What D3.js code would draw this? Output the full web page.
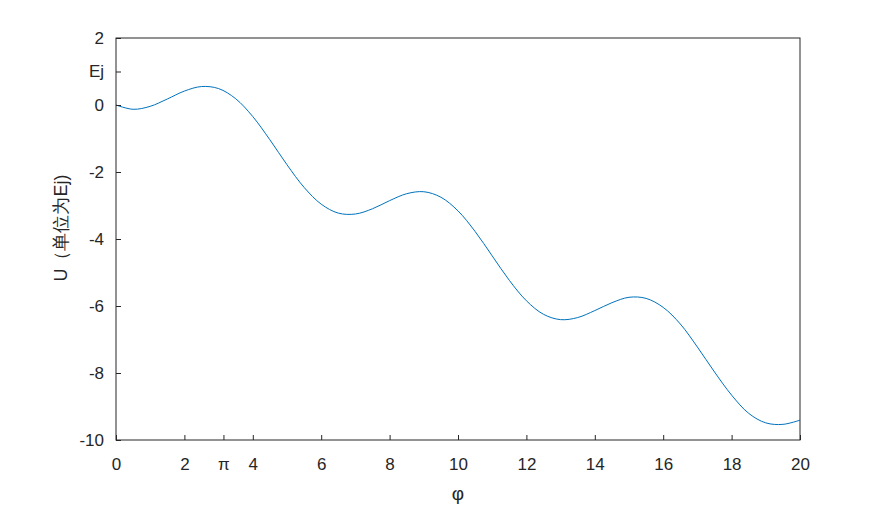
<!DOCTYPE html>
<html>
<head>
<meta charset="utf-8">
<script src="https://cdn.jsdelivr.net/npm/d3@7"></script>
<style>
  body { margin: 0; background: #fff; }
  text { font-family: "Liberation Sans", Arial, sans-serif; fill: #262626; }
</style>
</head>
<body>
<div id="chart"></div>
<script>
// phase values (every 0.5)
var phi = [0, 0.5, 1, 1.5, 2, 2.5, 3, 3.5, 4, 4.5, 5, 5.5, 6, 6.5, 7, 7.5, 8, 8.5, 9, 9.5,
  10, 10.5, 11, 11.5, 12, 12.5, 13, 13.5, 14, 14.5, 15, 15.5, 16, 16.5, 17, 17.5, 18, 18.5, 19, 19.5, 20];
var potential = [0, -0.128, -0.040, 0.179, 0.416, 0.551, 0.490, 0.187, -0.346, -1.039,
  -1.784, -2.459, -2.960, -3.227, -3.254, -3.097, -2.855, -2.648, -2.589, -2.753,
  -3.161, -3.775, -4.504, -5.233, -5.844, -6.248, -6.407, -6.345, -6.137, -5.902,
  -5.740, -5.773, -6.042, -6.537, -7.225, -7.969, -8.660, -9.204, -9.489, -9.533, -9.408];
var xTicks = [0, 2, Math.PI, 4, 6, 8, 10, 12, 14, 16, 18, 20];
var xTickLabels = ['0', '2', 'π', '4', '6', '8', '10', '12', '14', '16', '18', '20'];
var yTicks = [2, 1, 0, -2, -4, -6, -8, -10];
var yTickLabels = ['2', 'Ej', '0', '-2', '-4', '-6', '-8', '-10'];

var width = 885, height = 505;
var margin = {left: 116, right: 85, top: 38, bottom: 65};
var w = width - margin.left - margin.right;
var h = height - margin.top - margin.bottom;

var svg = d3.select('#chart').append('svg')
  .attr('width', width).attr('height', height);
var g = svg.append('g')
  .attr('transform', 'translate(' + margin.left + ',' + margin.top + ')');

var x = d3.scaleLinear().domain([0, 20]).range([0, w]);
var y = d3.scaleLinear().domain([-10, 2]).range([h, 0]);

var data = phi.map(function(p, i) { return {x: p, y: potential[i]}; });

var line = d3.line()
  .x(function(d) { return x(d.x); })
  .y(function(d) { return y(d.y); })
  .curve(d3.curveCatmullRom.alpha(0.5));

g.append('path')
  .datum(data)
  .attr('fill', 'none')
  .attr('stroke', '#0072bd')
  .attr('stroke-width', 1)
  .attr('d', line);

// box
g.append('rect')
  .attr('x', 0).attr('y', 0).attr('width', w).attr('height', h)
  .attr('fill', 'none').attr('stroke', '#262626').attr('stroke-width', 1);

var xAxis = d3.axisBottom(x)
  .tickValues(xTicks)
  .tickSize(-5)
  .tickPadding(18)
  .tickFormat(function(d, i) { return xTickLabels[i]; });
var gx = g.append('g').attr('transform', 'translate(0,' + h + ')').call(xAxis);

var yAxis = d3.axisLeft(y)
  .tickValues(yTicks)
  .tickSize(-5)
  .tickPadding(12)
  .tickFormat(function(d, i) { return yTickLabels[i]; });
var gy = g.append('g').call(yAxis);

[gx, gy].forEach(function(a) {
  a.select('.domain').remove();
  a.selectAll('line').attr('stroke', '#262626');
  a.selectAll('text')
    .style('font-family', '"Liberation Sans", Arial, sans-serif')
    .style('font-size', '17px')
    .attr('fill', '#262626');
});

svg.append('text')
  .attr('x', margin.left + x(10))
  .attr('y', 500)
  .attr('text-anchor', 'middle')
  .style('font-size', '19px')
  .text('φ');

svg.append('text')
  .attr('transform', 'translate(67,228) rotate(-90)')
  .attr('text-anchor', 'middle')
  .style('font-size', '18px')
  .text('U（单位为Ej)');
</script>
</body>
</html>
